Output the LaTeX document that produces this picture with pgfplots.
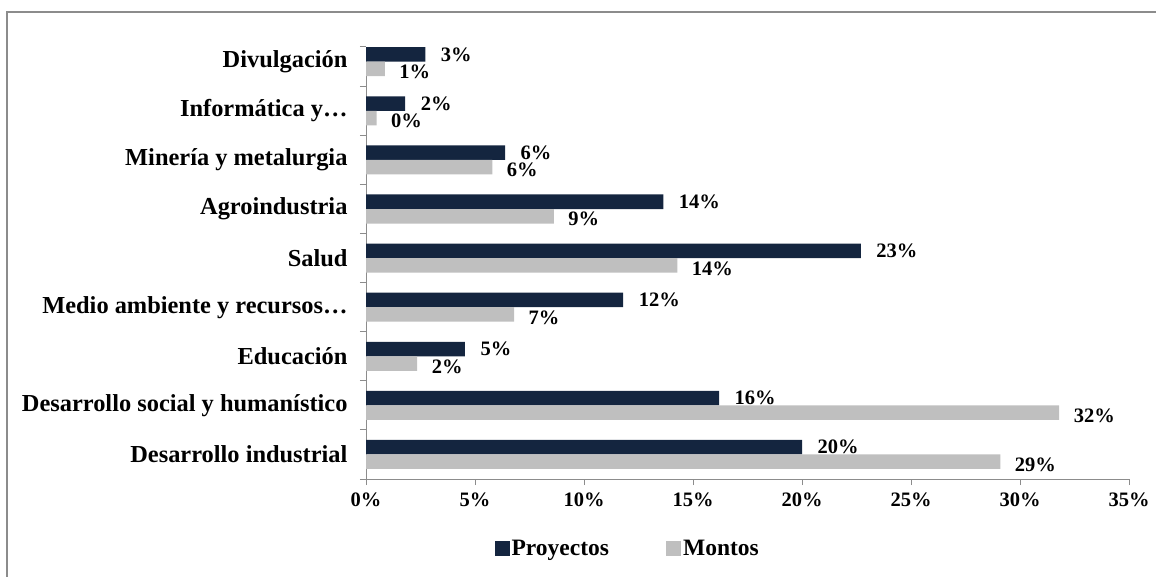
\documentclass[border=0pt]{standalone}
\usepackage{pgfplots}
\pgfplotsset{compat=1.18}
\usepackage{fontspec}
\setmainfont{Liberation Serif}
\definecolor{navy}{HTML}{14253F}
\definecolor{lgray}{HTML}{BFBFBF}
\definecolor{axgray}{HTML}{8C8C8C}
\begin{document}
\begin{tikzpicture}
\useasboundingbox (0,0) rectangle (1156pt,576pt);
\draw[axgray, line width=1.5pt] (7pt,-2pt) -- (7pt,564pt) -- (1158pt,564pt);
\begin{axis}[
  at={(366pt,97pt)}, anchor=south west,
  scale only axis, width=763pt, height=432pt,
  xbar, bar width=14.5pt,
  xmin=0, xmax=35,
  ymin=-0.5, ymax=8.3,
  axis x line*=bottom, axis y line*=left,
  axis line style={draw=axgray, line width=1pt},
  tick align=outside,
  xtick={0,5,...,35},
  xticklabel={\pgfmathprintnumber[assume math mode=true]{\tick}\%},
  x tick style={draw=axgray, line width=1pt},
  major tick length=6pt,
  minor tick length=6pt,
  ytick={0,...,8},
  y tick style={draw=none},
  minor ytick={-0.5,0.5,1.5,2.5,3.5,4.5,5.5,6.5,7.5,8.3},
  minor y tick style={draw=axgray, line width=1pt},
  yticklabels={Desarrollo industrial, Desarrollo social y humanístico, Educación, Medio ambiente y recursos…, Salud, Agroindustria, Minería y metalurgia, Informática y…, Divulgación},
  yticklabel style={font=\fontsize{24.4}{29}\selectfont\bfseries, anchor=east, xshift=-9pt},
  xticklabel style={font=\fontsize{20.5}{24}\selectfont\bfseries, yshift=-4pt},
  point meta=explicit symbolic,
  nodes near coords={\pgfplotspointmeta\%},
  every node near coord/.append style={font=\fontsize{20.5}{24}\selectfont\bfseries, anchor=west, xshift=12pt, text=black},
  legend style={at={(0.343,-0.16)}, anchor=center, draw=none, fill=none,
    legend columns=2, font=\fontsize{23.5}{28}\selectfont\bfseries,
    /tikz/every even column/.append style={column sep=55pt},
    nodes={inner xsep=2pt}},
  legend image code/.code={\fill[#1] (0pt,-7.5pt) rectangle (15pt,7.5pt);},
]
\addplot[fill=navy, draw=none, bar shift=7.25pt] coordinates {
(20.0,0) [20]
(16.2,1) [16]
(4.54,2) [5]
(11.8,3) [12]
(22.7,4) [23]
(13.64,5) [14]
(6.38,6) [6]
(1.8,7) [2]
(2.72,8) [3]
};
\addplot[fill=lgray, draw=none, bar shift=-7.25pt, every node near coord/.append style={yshift=-3pt, xshift=-1pt}] coordinates {
(29.1,0) [29]
(31.8,1) [32]
(2.35,2) [2]
(6.79,3) [7]
(14.28,4) [14]
(8.62,5) [9]
(5.8,6) [6]
(0.49,7) [0]
(0.87,8) [1]
};
\legend{Proyectos, Montos}
\end{axis}
\end{tikzpicture}
\end{document}
